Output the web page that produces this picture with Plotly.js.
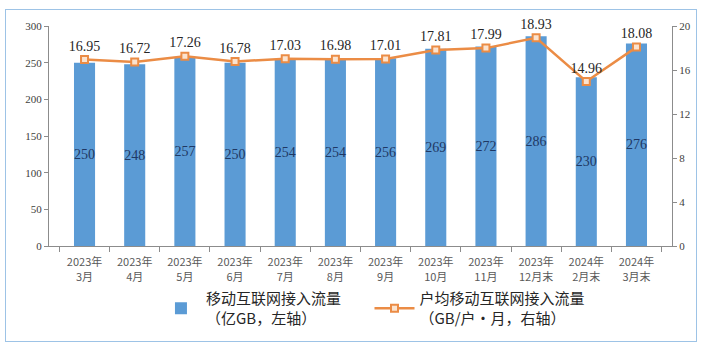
<!DOCTYPE html>
<html><head><meta charset="utf-8">
<script src="https://cdn.plot.ly/plotly-3.0.1.min.js"></script>
<style>
html,body{margin:0;padding:0;background:#fff;}
#wrap{position:relative;width:707px;height:351px;}
#frame{position:absolute;left:5px;top:9px;width:690px;height:331px;border:1px solid #9DC3E6;pointer-events:none;}
#chart{position:absolute;left:0;top:0;width:707px;height:351px;}
</style></head>
<body><div id="wrap"><div id="chart"></div><div id="frame"></div></div>
<script>
const categories = ["2023年<br>3月","2023年<br>4月","2023年<br>5月","2023年<br>6月","2023年<br>7月","2023年<br>8月","2023年<br>9月","2023年<br>10月","2023年<br>11月","2023年<br>12月末","2024年<br>2月末","2024年<br>3月末"];
const traffic = [250,248,257,250,254,254,256,269,272,286,230,276];
const perUser = [16.95,16.72,17.26,16.78,17.03,16.98,17.01,17.81,17.99,18.93,14.96,18.08];
const barName = "移动互联网接入流量\u00a0\u00a0\u00a0\u00a0\u00a0\u00a0\u00a0<br>（亿GB，左轴）";
const lineName = "户均移动互联网接入流量<br>（GB/户・月，右轴）";

const numFont = "Liberation Serif, Times New Roman, serif";
const cjk = "Noto Sans CJK SC, sans-serif";

const data = [
  {type:"bar", x:categories, y:traffic, name:barName,
   marker:{color:"#5B9BD5"}, text:traffic.map(String), textposition:"inside",
   insidetextanchor:"middle", textangle:0, constraintext:"none",
   textfont:{family:numFont, size:14, color:"#1F3864"}, hoverinfo:"none"},
  {type:"scatter", mode:"lines+markers+text", x:categories, y:perUser, yaxis:"y2", name:lineName,
   line:{color:"#EB8C45", width:2.5},
   marker:{symbol:"square", size:7, color:"#FBE3CF", line:{color:"#EB8C45", width:2}},
   text:perUser.map(v=>v.toFixed(2)), textposition:"top center",
   textfont:{family:numFont, size:14, color:"#262626"}, hoverinfo:"none", cliponaxis:false}
];

const layout = {
  width:707, height:351,
  margin:{l:49, r:35, t:26, b:105},
  paper_bgcolor:"rgba(0,0,0,0)", plot_bgcolor:"rgba(0,0,0,0)",
  bargap:0.58, showlegend:true, barmode:"group",
  xaxis:{type:"category", showline:true, linecolor:"#8C8C8C", linewidth:1,
    ticks:"outside", tickson:"boundaries", ticklen:5, tickcolor:"#8C8C8C", ticklabelstandoff:6,
    tickfont:{family:cjk, size:11, color:"#595959"}, showgrid:false, zeroline:false, automargin:false},
  yaxis:{range:[0,300], dtick:50, showline:true, linecolor:"#8C8C8C", ticks:"outside", ticklen:4,
    tickcolor:"#8C8C8C", showgrid:false, zeroline:false, automargin:false,
    tickfont:{family:numFont, size:11, color:"#404040"}},
  yaxis2:{range:[0,20], dtick:4, overlaying:"y", side:"right", showline:true, linecolor:"#8C8C8C",
    ticks:"outside", ticklen:4, tickcolor:"#8C8C8C", showgrid:false, zeroline:false, automargin:false,
    tickfont:{family:numFont, size:11, color:"#404040"}},
  legend:{orientation:"h", x:0.52, xanchor:"center", y:-0.165, yanchor:"top",
    font:{family:cjk, size:15, color:"#262626"}, itemwidth:40, tracegroupgap:0,
    traceorder:"normal"}
};

Plotly.newPlot("chart", data, layout, {displayModeBar:false, staticPlot:true});
</script></body></html>
